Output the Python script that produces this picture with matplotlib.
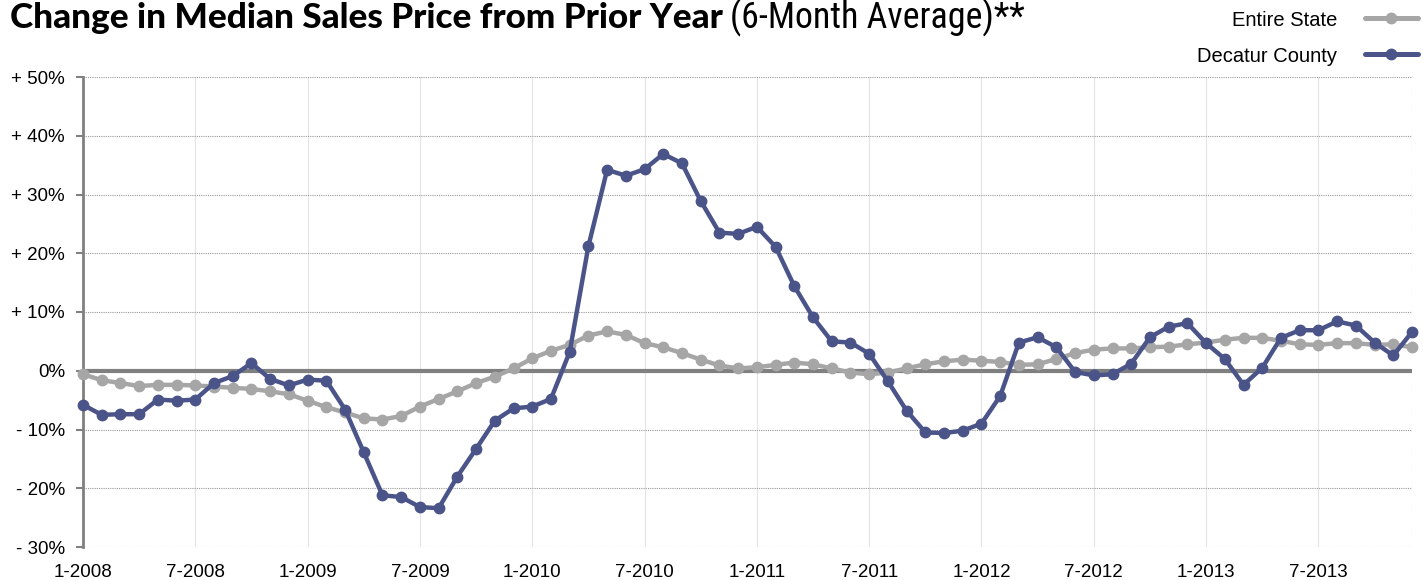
import matplotlib
matplotlib.use("Agg")
import matplotlib.pyplot as plt
from matplotlib.lines import Line2D
from matplotlib.textpath import TextPath
import matplotlib.font_manager as fm

plt.rcParams['font.family'] = ['Liberation Sans', 'DejaVu Sans']

months = list(range(72))
tick_labels = ['1-2008', '7-2008', '1-2009', '7-2009', '1-2010', '7-2010',
               '1-2011', '7-2011', '1-2012', '7-2012', '1-2013', '7-2013']
y_ticks = [-30, -20, -10, 0, 10, 20, 30, 40, 50]
y_labels = ['- 30%', '- 20%', '- 10%', '0%', '+ 10%', '+ 20%', '+ 30%', '+ 40%', '+ 50%']

entire_state = [
    -0.6, -1.6, -2.1, -2.6, -2.4, -2.4, -2.5, -2.7, -2.9, -3.1, -3.5, -4.0,
    -5.1, -6.2, -7.1, -8.1, -8.3, -7.7, -6.1, -4.8, -3.5, -2.1, -1.0, 0.4,
    2.1, 3.4, 4.4, 6.0, 6.7, 6.1, 4.7, 4.0, 3.0, 1.9, 0.9, 0.4,
    0.6, 1.0, 1.4, 1.1, 0.4, -0.3, -0.6, -0.3, 0.4, 1.1, 1.6, 1.9,
    1.7, 1.5, 1.0, 1.1, 2.0, 3.0, 3.6, 3.8, 3.8, 4.0, 4.1, 4.5,
    4.8, 5.3, 5.6, 5.6, 5.1, 4.5, 4.4, 4.7, 4.7, 4.4, 4.5, 4.0]

decatur = [
    -5.8, -7.5, -7.4, -7.4, -4.9, -5.1, -4.9, -2.1, -0.9, 1.3, -1.4, -2.5,
    -1.5, -1.7, -6.6, -13.9, -21.2, -21.5, -23.2, -23.4, -18.0, -13.3, -8.5, -6.4,
    -6.1, -4.8, 3.2, 21.2, 34.2, 33.2, 34.3, 36.9, 35.3, 28.9, 23.5, 23.3,
    24.5, 21.1, 14.4, 9.1, 5.0, 4.8, 2.9, -1.8, -6.8, -10.5, -10.6, -10.2,
    -9.0, -4.3, 4.8, 5.7, 4.0, -0.2, -0.8, -0.6, 1.2, 5.7, 7.5, 8.1,
    4.7, 2.0, -2.4, 0.5, 5.6, 6.9, 6.9, 8.4, 7.7, 4.8, 2.6, 6.6]

series_names = ['Entire State', 'Decatur County']
title_bold = 'Change in Median Sales Price from Prior Year'
title_reg = '(6-Month Average)**'
grey = '#a6a6a6'
navy = '#4b5488'
axis_grey = '#808080'

WEIGHTS = {'ultralight': 200, 'light': 300, 'normal': 400, 'regular': 400,
           'book': 400, 'medium': 500, 'roman': 400, 'semibold': 600,
           'demibold': 600, 'demi': 600, 'bold': 700, 'heavy': 800,
           'extra bold': 800, 'black': 900}
FAMILIES = ('liberation sans', 'roboto', 'open sans', 'lato', 'dejavu sans',
            'inter', 'noto sans')
EXTRA_WORDS = {'', 'condensed', 'semicondensed', 'extracondensed', 'narrow',
               'semi', 'extra', 'ultra', 'ultracondensed', 'bold', 'black',
               'extrabold', 'semibold', 'medium', 'light', 'thin', 'heavy'}


def weight_of(f):
    w = f.weight
    if isinstance(w, (int, float)):
        return int(w)
    return WEIGHTS.get(str(w).lower(), 400)


def candidates(min_w, max_w):
    out = []
    seen = set()
    for f in fm.fontManager.ttflist:
        nm = f.name.lower()
        fam = next((k for k in FAMILIES if nm.startswith(k)), None)
        if fam is None:
            continue
        rest = nm[len(fam):].replace('-', ' ').split()
        if not all(wd in EXTRA_WORDS for wd in rest):
            continue
        p = f.fname.lower()
        if 'italic' in p or 'oblique' in p or f.style != 'normal':
            continue
        if 'variable' in p or '[' in p:
            continue
        w = weight_of(f)
        if w < min_w or w > max_w or f.fname in seen:
            continue
        seen.add(f.fname)
        out.append((f.fname, w))
    return out[:40]


def pick_font(text, target_ratio, min_w, max_w):
    best = None
    for fname, w in candidates(min_w, max_w):
        try:
            fp = fm.FontProperties(fname=fname)
            cap = TextPath((0, 0), 'H', prop=fp, size=100).get_extents().height
            wid = TextPath((0, 0), text, prop=fp, size=100).get_extents().width
        except Exception:
            continue
        if cap <= 0:
            continue
        r = wid / cap
        score = abs(r - target_ratio) / target_ratio - 0.0002 * w
        if best is None or score < best[0]:
            best = (score, fname, cap / 100.0)
    return best


W, H = 1423, 580
fig = plt.figure(figsize=(W / 100, H / 100), dpi=100)
ax = fig.add_axes([83 / W, 1 - 547 / H, (1412 - 83) / W, (547 - 77) / H])

ax.set_xlim(0, 71)
ax.set_ylim(-30, 50)

for yv in y_ticks:
    ax.axhline(yv, color='#999999', lw=0.8, ls=(0, (1, 1)), zorder=1)
for xv in range(0, 72, 6):
    ax.axvline(xv, color='#e4e4e4', lw=0.8, zorder=0.5)
ax.axvline(71, color='#999999', lw=0.8, ls=(0, (1, 1)), zorder=1)
ax.axhline(0, color=axis_grey, lw=3.0, zorder=2)

ax.plot(months, entire_state, color=grey, lw=3.2, marker='o', ms=7.5,
        zorder=3, solid_joinstyle='round', clip_on=False)
ax.plot(months, decatur, color=navy, lw=3.2, marker='o', ms=7.5,
        zorder=4, solid_joinstyle='round', clip_on=False)

for s in ['top', 'right', 'bottom']:
    ax.spines[s].set_visible(False)
ax.spines['left'].set_color(axis_grey)
ax.spines['left'].set_linewidth(2.0)

ax.set_yticks(y_ticks)
ax.set_yticklabels(y_labels, fontsize=13.5)
ax.tick_params(axis='y', length=5, width=1.5, color=axis_grey, pad=8)
ax.set_xticks(range(0, 72, 6))
ax.set_xticklabels(tick_labels, fontsize=13.5)
ax.tick_params(axis='x', length=0, pad=12)

# Title: fonts chosen to match the reference proportions
CAP_PX = 25.5
x_bold0, x_bold1 = 10, 722
x_reg0, x_reg1 = 728, 1013
bsel = pick_font(title_bold, (x_bold1 - x_bold0) / CAP_PX, 700, 950)
rsel = pick_font(title_reg, (x_reg1 - x_reg0) / CAP_PX, 350, 450)

base_y = 1 - 28.5 / H
if bsel:
    fp_b = fm.FontProperties(fname=bsel[1])
    size_b = CAP_PX / bsel[2] * 72 / 100
else:
    fp_b = fm.FontProperties(family=['Liberation Sans', 'DejaVu Sans'], weight='bold')
    size_b = 24
if rsel:
    fp_r = fm.FontProperties(fname=rsel[1])
    size_r = CAP_PX / rsel[2] * 72 / 100
else:
    fp_r = fm.FontProperties(family=['Liberation Sans', 'DejaVu Sans'])
    size_r = 24

t1 = fig.text(x_bold0 / W, base_y, title_bold, fontproperties=fp_b,
              fontsize=size_b, va='baseline', ha='left')
fig.canvas.draw()
bb = t1.get_window_extent()
if bb.width > (x_bold1 - x_bold0) * 1.03:
    t1.set_fontsize(size_b * (x_bold1 - x_bold0) / bb.width)
    fig.canvas.draw()
    bb = t1.get_window_extent()
t2 = fig.text((bb.x1 + 7) / W, base_y, title_reg, fontproperties=fp_r,
              fontsize=size_r, va='baseline', ha='left')

# Legend
rows = [(18, 20), (54, 57)]
for (ly, ty), name, col in zip(rows, series_names, [grey, navy]):
    fig.text(1337 / W, 1 - ty / H, name, fontsize=14.5, ha='right', va='center')
    yy = 1 - ly / H
    fig.add_artist(Line2D([1365 / W, 1418 / W], [yy, yy], color=col, lw=3.6,
                          solid_capstyle='round', transform=fig.transFigure))
    fig.add_artist(Line2D([1391 / W], [yy], color=col, marker='o', ms=7.5,
                          transform=fig.transFigure))

fig.savefig('out.png', dpi=100)
